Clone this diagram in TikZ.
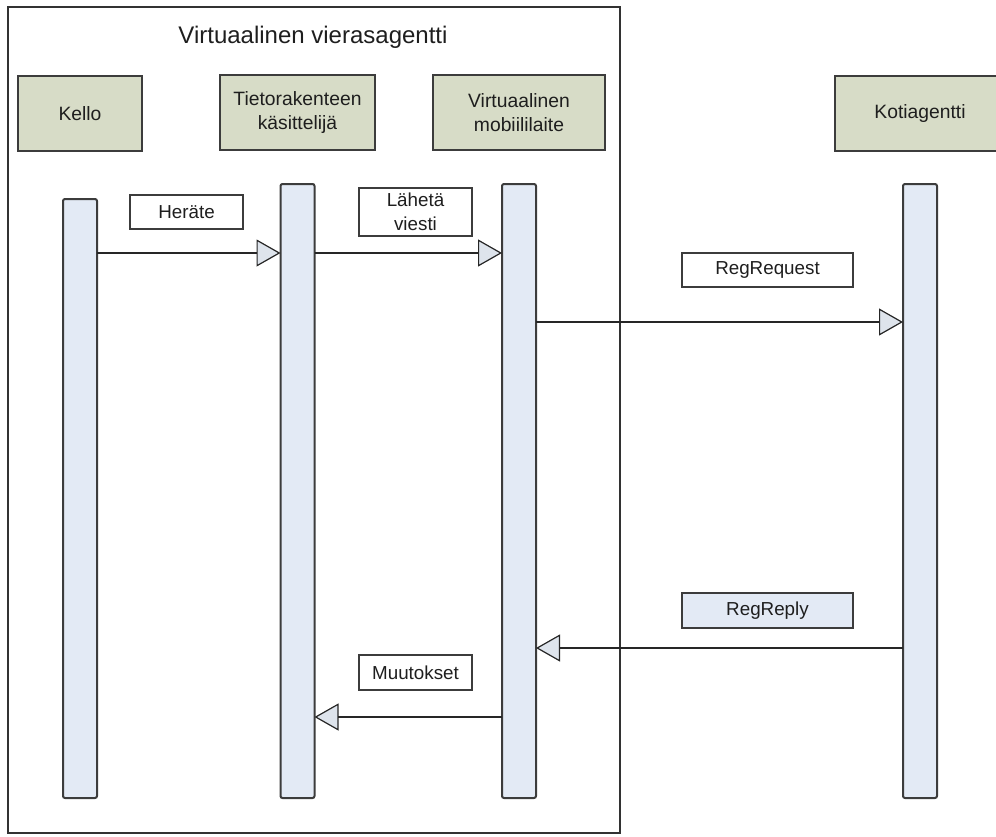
\documentclass[tikz,border=0pt]{standalone}
\usepackage{fontspec}
\setmainfont{Liberation Sans}
\usetikzlibrary{arrows.meta}
\definecolor{hdrfill}{RGB}{215,220,199}
\definecolor{hdrline}{RGB}{60,60,60}
\definecolor{barfill}{RGB}{227,234,245}
\definecolor{tipfill}{RGB}{222,228,236}
\definecolor{txt}{RGB}{30,30,30}
\definecolor{frameline}{RGB}{50,50,50}
\tikzset{
  hdr/.style={draw=hdrline, fill=hdrfill, line width=2pt, inner sep=0pt, outer sep=0pt,
    align=center, text=txt, font=\fontsize{19.3}{23.5}\selectfont},
  lbar/.style={draw=hdrline, fill=barfill, line width=2pt, inner sep=0pt, outer sep=0pt,
    rounded corners=2pt, minimum width=34pt, minimum height=614pt},
  lbl/.style={draw=hdrline, fill=white, line width=1.6pt, inner sep=0pt, outer sep=0pt,
    align=center, text=txt, font=\fontsize{18.8}{24}\selectfont},
  msg/.style={draw=black!85, line width=1.4pt,
    -{Triangle[length=24pt,width=27pt,fill=tipfill,line width=1.2pt]}},
}
\begin{document}
\begin{tikzpicture}[x=1pt,y=-1pt]
\useasboundingbox (0,0) rectangle (996,836);
% frame
\draw[draw=frameline, line width=1.6pt] (8,7) rectangle (620,833);
\node[text=txt, font=\fontsize{24}{28}\selectfont] (title) at (313,37) {Virtuaalinen vierasagentti};
% headers
\node[hdr, minimum width=124pt, minimum height=75pt] (kello) at (80,113.5) {Kello};
\node[hdr, minimum width=155pt, minimum height=75pt] (tieto) at (297.5,112.5) {Tietorakenteen\\käsittelijä};
\node[hdr, minimum width=172pt, minimum height=75pt] (virt) at (519,112.5) {Virtuaalinen\\mobiililaite};
\node[hdr, minimum width=170pt, minimum height=75pt, text width=170pt] (koti) at (920,113.5) {Kotiagentti};
% lifeline bars
\node[lbar, minimum height=599pt] (kbar) at (80,498.5) {};
\node[lbar] (tbar) at (297.5,491) {};
\node[lbar] (vbar) at (519,491) {};
\node[lbar] (obar) at (920,491) {};
% message labels
\node[lbl, minimum width=113pt, minimum height=34pt] (herate) at (186.5,212) {Heräte};
\node[lbl, minimum width=113pt, minimum height=48pt] (laheta) at (415.5,212) {Lähetä\\viesti};
\node[lbl, minimum width=171pt, minimum height=34pt] (regreq) at (767.5,270) {RegRequest};
\node[lbl, fill=barfill, minimum width=171pt, minimum height=35pt] (regrep) at (767.5,610.5) {RegReply};
\node[lbl, minimum width=113pt, minimum height=35pt] (muut) at (415.5,672.5) {Muutokset};
% message levels
\coordinate (m1) at (0,253);
\coordinate (m2) at (0,322);
\coordinate (m3) at (0,648);
\coordinate (m4) at (0,717);
% messages
\draw[msg] (kbar.east |- m1) -- (tbar.west |- m1);
\draw[msg] (tbar.east |- m1) -- (vbar.west |- m1);
\draw[msg] (vbar.east |- m2) -- (obar.west |- m2);
\draw[msg] (obar.west |- m3) -- (vbar.east |- m3);
\draw[msg] (vbar.west |- m4) -- (tbar.east |- m4);
\end{tikzpicture}
\end{document}
